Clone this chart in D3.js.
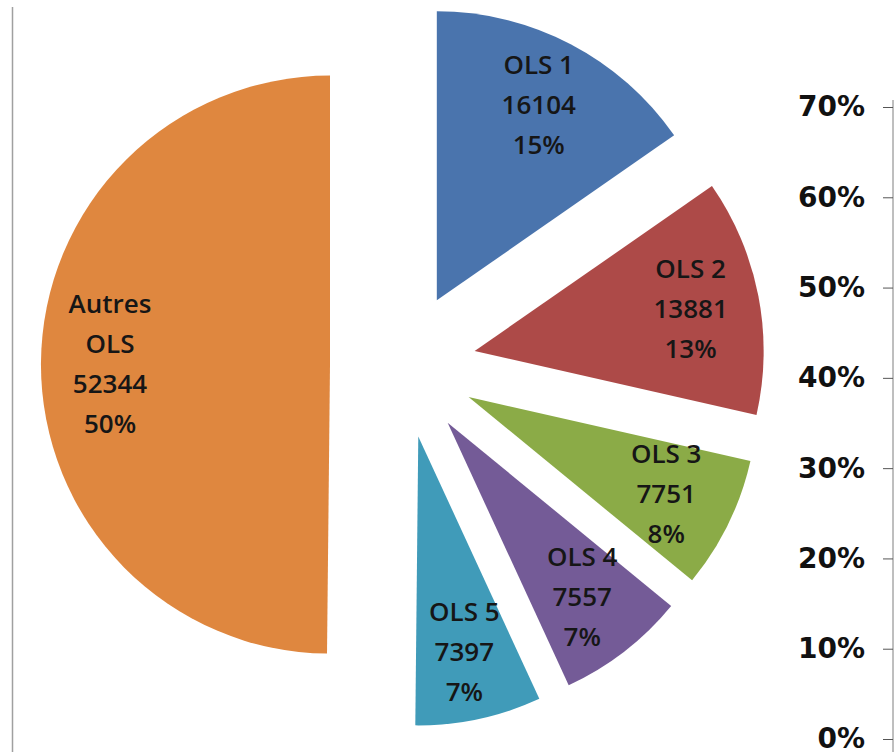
<!DOCTYPE html>
<html>
<head>
<meta charset="utf-8">
<script src="https://cdn.jsdelivr.net/npm/d3@7"></script>
<style>
  html, body { margin: 0; padding: 0; background: #fff; }
  svg { display: block; }
</style>
</head>
<body>
<svg id="chart"></svg>
<script>
// data
const categories = ["OLS 1", "OLS 2", "OLS 3", "OLS 4", "OLS 5", "Autres OLS"];
const nameLines = [["OLS 1"], ["OLS 2"], ["OLS 3"], ["OLS 4"], ["OLS 5"], ["Autres", "OLS"]];
const values = [16104, 13881, 7751, 7557, 7397, 52344];
const percentLabels = ["15%", "13%", "8%", "7%", "7%", "50%"];
const colors = ["#4a74ad", "#ad4a48", "#8bab47", "#745b97", "#409bb9", "#df873f"];
const axisTicks = [0, 0.1, 0.2, 0.3, 0.4, 0.5, 0.6, 0.7];

const width = 894, height = 752;
const svg = d3.select("#chart").attr("width", width).attr("height", height);

// left frame line
svg.append("line")
  .attr("x1", 12.5).attr("x2", 12.5)
  .attr("y1", 7).attr("y2", height)
  .attr("stroke", "#a0a0a0").attr("stroke-width", 1.5);

let cx = 403, cy = 365,
  radius = 289,
  explode = 73,
  labelRadius = 220;

let g = svg.append("g").attr("transform", "translate(" + cx + "," + cy + ")");

// Generate the pie
let pie = d3.pie().sort(null).value((d) => d);
let arc = d3.arc().innerRadius(0).outerRadius(radius);
let labelArc = d3.arc().innerRadius(labelRadius).outerRadius(labelRadius);

let slices = g.selectAll("g.slice")
  .data(pie(values))
  .enter()
  .append("g")
  .attr("class", "slice")
  .attr("transform", (d) => {
    let mid = (d.startAngle + d.endAngle) / 2;
    return "translate(" + explode * Math.sin(mid) + "," + -explode * Math.cos(mid) + ")";
  });

slices.append("path")
  .attr("fill", (d, i) => colors[i])
  .attr("d", arc);

let lineH = 40;
slices.each(function (d, i) {
  let lines = nameLines[i].concat([d3.format("d")(d.value), percentLabels[i]]);
  let c = labelArc.centroid(d);
  let text = d3.select(this).append("text")
    .attr("text-anchor", "middle")
    .attr("font-family", "'Open Sans', sans-serif")
    .attr("font-size", 26)
    .attr("font-weight", 600)
    .attr("fill", "#161616");
  lines.forEach((l, k) => {
    text.append("tspan")
      .attr("x", c[0])
      .attr("y", c[1] + (k - (lines.length - 1) / 2) * lineH)
      .attr("dy", "0.35em")
      .text(l);
  });
});

// right percentage axis (cut off by the edge)
let y = d3.scaleLinear().domain([0, 0.7]).range([739, 107]);
let axis = svg.append("g")
  .attr("transform", "translate(893,0)")
  .call(d3.axisLeft(y).tickValues(axisTicks).tickFormat(d3.format(".0%")).tickSize(10).tickPadding(18));
axis.select(".domain").attr("stroke", "#7f7f7f").attr("d", "M0,100V" + height);
axis.selectAll(".tick line").attr("stroke", "#555");
axis.selectAll(".tick text")
  .attr("font-family", "'DejaVu Sans', sans-serif")
  .attr("font-weight", "bold")
  .attr("font-size", 28)
  .attr("fill", "#111");
</script>
</body>
</html>
